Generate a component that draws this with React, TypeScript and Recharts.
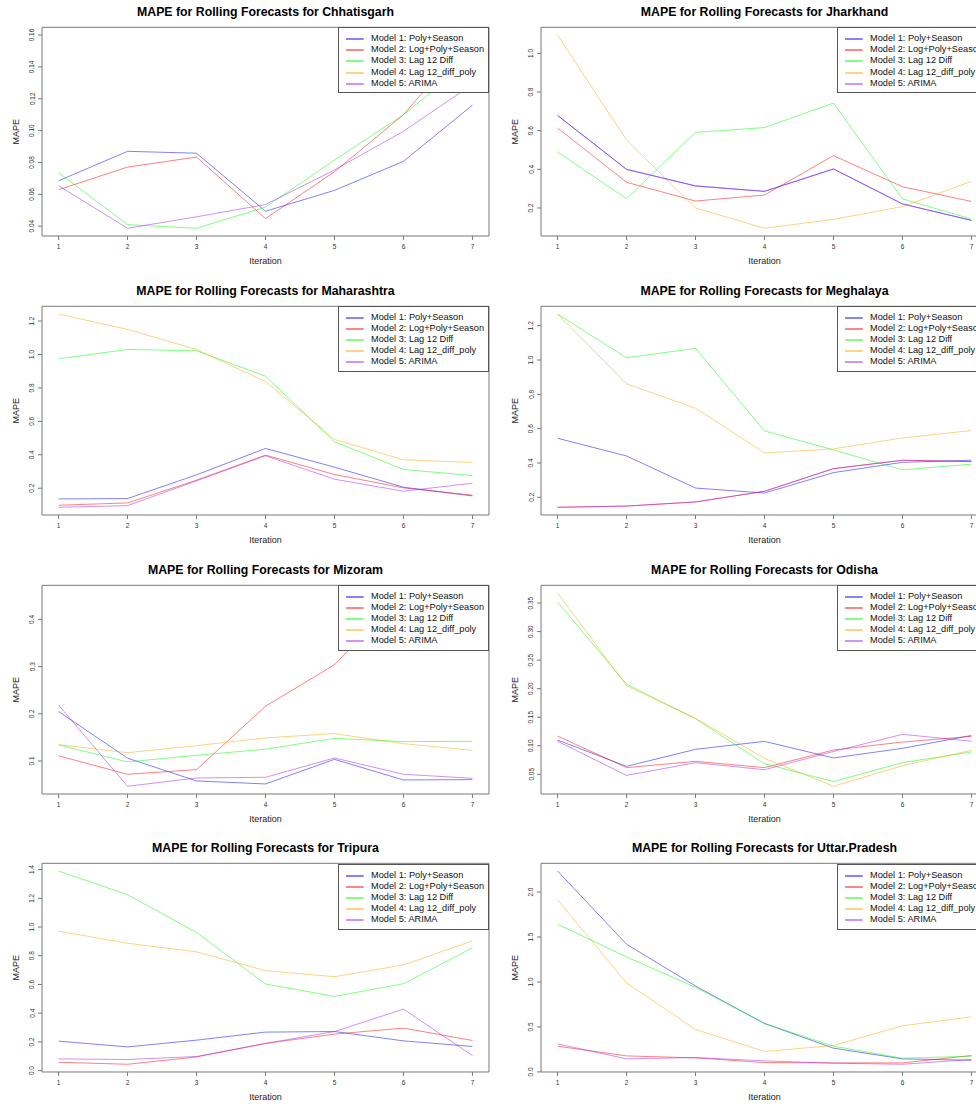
import React from "react";
import { LineChart, Line, XAxis, YAxis, ReferenceArea } from "recharts";

const iterations = [1, 2, 3, 4, 5, 6, 7];

const modelNames = [
  "Model 1: Poly+Season",
  "Model 2: Log+Poly+Season",
  "Model 3: Lag 12 Diff",
  "Model 4: Lag 12_diff_poly",
  "Model 5: ARIMA",
];
const modelColors = ["#0000ff", "#ff0000", "#00ff00", "#ffa500", "#a020f0"];

// MAPE per model (one row per model, one value per iteration)
const chhattisgarh = [
  [0.0685, 0.087, 0.0858, 0.0494, 0.0625, 0.0807, 0.116],
  [0.0629, 0.0771, 0.0834, 0.0448, 0.0742, 0.11, 0.16],
  [0.0736, 0.041, 0.0387, 0.052, 0.0815, 0.11, 0.145],
  [null, null, null, null, null, null, null],
  [0.0654, 0.0387, 0.0459, 0.0536, 0.0753, 0.0996, 0.129],
];
const jharkhand = [
  [0.679, 0.4, 0.314, 0.286, 0.402, 0.221, 0.136],
  [0.614, 0.333, 0.236, 0.267, 0.471, 0.31, 0.234],
  [0.49, 0.248, 0.591, 0.616, 0.743, 0.247, 0.143],
  [1.095, 0.552, 0.2, 0.095, 0.141, 0.207, 0.338],
  [0.679, 0.4, 0.314, 0.286, 0.402, 0.221, 0.136],
];
const maharashtra = [
  [0.136, 0.138, 0.28, 0.438, 0.326, 0.206, 0.154],
  [0.098, 0.112, 0.248, 0.398, 0.282, 0.202, 0.158],
  [0.974, 1.03, 1.022, 0.87, 0.478, 0.312, 0.276],
  [1.242, 1.15, 1.03, 0.838, 0.492, 0.37, 0.354],
  [0.086, 0.096, 0.244, 0.394, 0.254, 0.182, 0.23],
];
const meghalaya = [
  [0.544, 0.441, 0.254, 0.225, 0.344, 0.404, 0.416],
  [0.142, 0.149, 0.173, 0.235, 0.367, 0.416, 0.408],
  [1.268, 1.013, 1.068, 0.587, 0.476, 0.36, 0.393],
  [1.268, 0.861, 0.719, 0.459, 0.482, 0.546, 0.589],
  [0.142, 0.149, 0.173, 0.235, 0.367, 0.416, 0.408],
];
const mizoram = [
  [0.205, 0.106, 0.0577, 0.0513, 0.1035, 0.0598, 0.0605],
  [0.111, 0.0718, 0.0817, 0.216, 0.304, 0.456, 0.4],
  [0.134, 0.098, 0.112, 0.125, 0.148, 0.141, 0.1416],
  [0.1346, 0.1176, 0.1325, 0.149, 0.158, 0.1367, 0.1226],
  [0.2186, 0.0464, 0.064, 0.0654, 0.1064, 0.0718, 0.0633],
];
const odisha = [
  [0.11, 0.064, 0.0937, 0.1077, 0.0786, 0.0955, 0.118],
  [0.117, 0.0617, 0.0727, 0.0617, 0.0925, 0.1065, 0.1164],
  [0.352, 0.208, 0.1473, 0.0686, 0.0372, 0.0704, 0.089],
  [0.3676, 0.205, 0.148, 0.078, 0.029, 0.065, 0.092],
  [0.108, 0.048, 0.0704, 0.058, 0.09, 0.12, 0.108],
];
const tripura = [
  [0.205, 0.165, 0.212, 0.268, 0.272, 0.207, 0.168],
  [0.058, 0.044, 0.095, 0.189, 0.254, 0.296, 0.21],
  [1.39, 1.225, 0.962, 0.603, 0.517, 0.605, 0.855],
  [0.971, 0.887, 0.827, 0.696, 0.654, 0.736, 0.903],
  [0.0815, 0.077, 0.098, 0.189, 0.272, 0.428, 0.105],
];
const uttarPradesh = [
  [2.234, 1.42, 0.955, 0.539, 0.264, 0.145, 0.13],
  [0.286, 0.178, 0.156, 0.104, 0.1, 0.1, 0.182],
  [1.643, 1.279, 0.94, 0.539, 0.286, 0.152, 0.175],
  [1.914, 0.989, 0.472, 0.227, 0.294, 0.513, 0.613],
  [0.312, 0.145, 0.16, 0.123, 0.097, 0.085, 0.137],
];

const ticksChhattisgarh = [0.04, 0.06, 0.08, 0.1, 0.12, 0.14, 0.16];
const ticksJharkhand = [0.2, 0.4, 0.6, 0.8, 1.0];
const ticksMaharashtra = [0.2, 0.4, 0.6, 0.8, 1.0, 1.2];
const ticksMeghalaya = [0.2, 0.4, 0.6, 0.8, 1.0, 1.2];
const ticksMizoram = [0.1, 0.2, 0.3, 0.4];
const ticksOdisha = [0.05, 0.1, 0.15, 0.2, 0.25, 0.3, 0.35];
const ticksTripura = [0, 0.2, 0.4, 0.6, 0.8, 1.0, 1.2, 1.4];
const ticksUttarPradesh = [0, 0.5, 1.0, 1.5, 2.0];

const panels = [
  { state: "Chhatisgarh", values: chhattisgarh, ticks: ticksChhattisgarh, digits: 2 },
  { state: "Jharkhand", values: jharkhand, ticks: ticksJharkhand, digits: 1 },
  { state: "Maharashtra", values: maharashtra, ticks: ticksMaharashtra, digits: 1 },
  { state: "Meghalaya", values: meghalaya, ticks: ticksMeghalaya, digits: 1 },
  { state: "Mizoram", values: mizoram, ticks: ticksMizoram, digits: 1 },
  { state: "Odisha", values: odisha, ticks: ticksOdisha, digits: 2 },
  { state: "Tripura", values: tripura, ticks: ticksTripura, digits: 1 },
  { state: "Uttar.Pradesh", values: uttarPradesh, ticks: ticksUttarPradesh, digits: 1 },
];

const FONT = '"Liberation Sans", Arial, Helvetica, sans-serif';
const PANEL_W = 499;
const PANEL_H = 278.8;
const BOX_TOP = 27.3;
const BOX_RIGHT = 10;
const Y_AXIS_W = 42;
const X_AXIS_H = 42.8;
const AXIS_GRAY = "#777";

// R-style range padding (4% on each side)
const padded = (vals: number[]): [number, number] => {
  const lo = Math.min(...vals);
  const hi = Math.max(...vals);
  const p = (hi - lo) * 0.04;
  return [lo - p, hi + p];
};

const xDomain = padded(iterations);

const YTick = (props: any) => {
  const { x, y, payload, digits } = props;
  return (
    <text
      x={x}
      y={y}
      transform={`rotate(-90 ${x} ${y})`}
      textAnchor="middle"
      fontSize={6.5}
      fill="#333"
      fontFamily={FONT}
    >
      {Number(payload.value).toFixed(digits)}
    </text>
  );
};

const ModelLegend = () => (
  <div
    style={{
      position: "absolute",
      top: BOX_TOP,
      right: BOX_RIGHT,
      width: 151.4,
      height: 66,
      boxSizing: "border-box",
      border: "1px solid #555",
      background: "#fff",
      paddingTop: 5,
      fontFamily: FONT,
      fontSize: 9.2,
      color: "#111",
      whiteSpace: "nowrap",
    }}
  >
    {modelNames.map((name, i) => (
      <div key={name} style={{ position: "relative", height: 11.1, lineHeight: "11.1px" }}>
        <svg
          width={18}
          height={4}
          style={{ position: "absolute", left: 7, top: 4, overflow: "visible" }}
        >
          <line x1={0} y1={2} x2={17.7} y2={2} stroke={modelColors[i]} strokeOpacity={0.75} strokeWidth={1.3} />
        </svg>
        <span style={{ position: "absolute", left: 32.5 }}>{name}</span>
      </div>
    ))}
  </div>
);

const Panel = ({ state, values, ticks, digits }: any) => {
  const data = iterations.map((it, j) => {
    const row: any = { iteration: it };
    values.forEach((series: (number | null)[], i: number) => {
      row[`m${i + 1}`] = series[j];
    });
    return row;
  });
  const allValues = values.flat().filter((v: number | null) => v != null) as number[];
  const yDomain = padded(allValues);

  return (
    <div style={{ position: "relative", width: PANEL_W, height: PANEL_H, overflow: "hidden" }}>
      <div
        style={{
          position: "absolute",
          top: 0,
          left: Y_AXIS_W,
          width: PANEL_W - Y_AXIS_W - BOX_RIGHT,
          textAlign: "center",
          lineHeight: "25.4px",
          fontFamily: FONT,
          fontWeight: "bold",
          fontSize: 12.3,
          color: "#000",
          whiteSpace: "nowrap",
        }}
      >
        MAPE for Rolling Forecasts for {state}
      </div>
      <LineChart
        width={PANEL_W}
        height={PANEL_H}
        data={data}
        margin={{ top: BOX_TOP, right: BOX_RIGHT, left: 0, bottom: 0 }}
      >
        <XAxis
          dataKey="iteration"
          type="number"
          domain={xDomain}
          ticks={iterations}
          allowDataOverflow
          height={X_AXIS_H}
          axisLine={false}
          tickLine={{ stroke: AXIS_GRAY }}
          tickSize={4}
          tickMargin={4.5}
          tick={{ fontSize: 6.5, fill: "#333", fontFamily: FONT }}
          label={(p: any) => {
            const vb = p.viewBox;
            return (
              <text
                x={vb.x + vb.width / 2}
                y={vb.y + 25}
                textAnchor="middle"
                dominantBaseline="central"
                fontSize={9}
                fill="#222"
                fontFamily={FONT}
              >
                Iteration
              </text>
            );
          }}
        />
        <YAxis
          type="number"
          domain={yDomain}
          ticks={ticks}
          allowDataOverflow
          width={Y_AXIS_W}
          axisLine={false}
          tickLine={{ stroke: AXIS_GRAY }}
          tickSize={4}
          tickMargin={3.5}
          tick={<YTick digits={digits} />}
          label={(p: any) => {
            const vb = p.viewBox;
            const cx = vb.x + 15.7;
            const cy = vb.y + vb.height / 2;
            return (
              <text
                x={cx}
                y={cy}
                transform={`rotate(-90 ${cx} ${cy})`}
                textAnchor="middle"
                dominantBaseline="central"
                fontSize={9}
                fill="#222"
                fontFamily={FONT}
              >
                MAPE
              </text>
            );
          }}
        />
        <ReferenceArea
          x1={xDomain[0]}
          x2={xDomain[1]}
          y1={yDomain[0]}
          y2={yDomain[1]}
          fill="none"
          stroke={AXIS_GRAY}
          strokeWidth={1}
          ifOverflow="visible"
        />
        {modelNames.map((name, i) => (
          <Line
            key={name}
            type="linear"
            dataKey={`m${i + 1}`}
            name={name}
            stroke={modelColors[i]}
            strokeOpacity={0.5}
            strokeWidth={1}
            dot={false}
            activeDot={false}
            isAnimationActive={false}
          />
        ))}
      </LineChart>
      <ModelLegend />
    </div>
  );
};

export default function App() {
  return (
    <div style={{ width: 976, height: 1104, overflow: "hidden", background: "#fff" }}>
      <style>{"body{margin:0;}"}</style>
      <div style={{ display: "grid", gridTemplateColumns: `${PANEL_W}px ${PANEL_W}px`, width: PANEL_W * 2 }}>
        {panels.map((p) => (
          <Panel key={p.state} {...p} />
        ))}
      </div>
    </div>
  );
}
